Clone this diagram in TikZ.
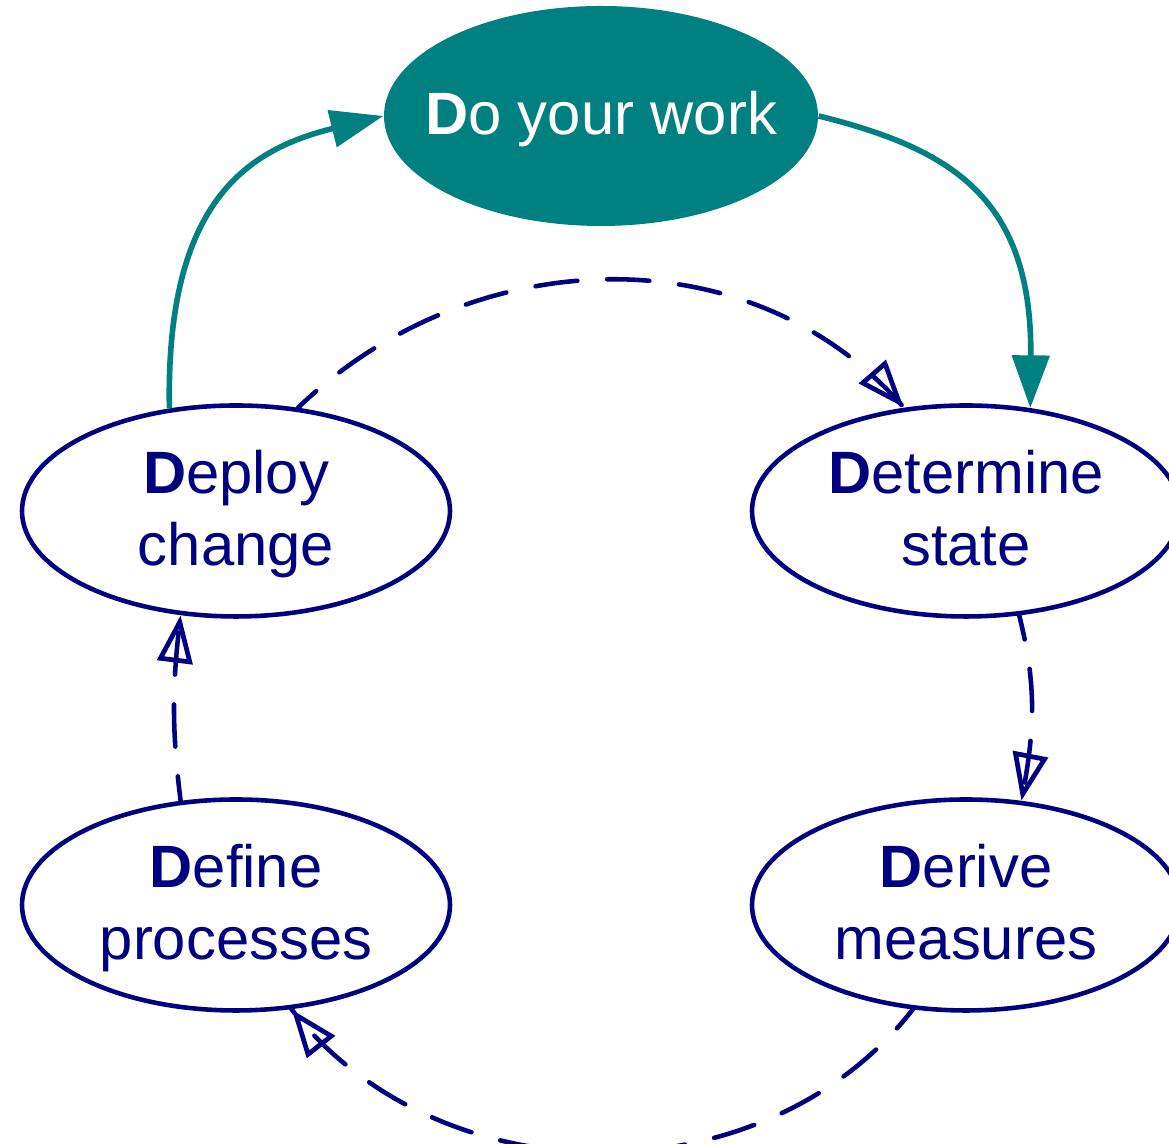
\documentclass[tikz,border=0pt]{standalone}
\usepackage{fontspec}
\setmainfont{Liberation Sans}
\usetikzlibrary{shapes.geometric, arrows.meta, decorations.markings}
\definecolor{navyblue}{HTML}{000080}
\definecolor{tealc}{HTML}{008080}
% struts that fix the height of the first and the depth of the last text line
\newcommand{\topstrut}{\rule{0pt}{0.865em}}
\newcommand{\botstrut}{\rule[-0.25em]{0pt}{0pt}}

\begin{document}
\begin{tikzpicture}[
  lbl/.style={font=\fontsize{17}{20.5}\selectfont, align=center},
  stage/.style={ellipse, draw=navyblue, line width=1.3pt, text=navyblue,
    minimum width=4.28cm, minimum height=2.11cm, inner sep=0pt, lbl},
  hub/.style={ellipse, fill=tealc, text=white,
    minimum width=4.34cm, minimum height=2.2cm, inner xsep=-0.3cm, inner ysep=0pt, lbl},
  mainflow/.style={draw=tealc, line width=1.6pt,
    -{Triangle[length=15pt, width=10.5pt]}},
  % dashed link whose open head sits over the end of the line
  loopflow/.style={draw=navyblue, line width=1.3pt, line cap=round,
    dash pattern=on 12pt off 8.5pt, dash phase=5pt,
    postaction={decorate},
    decoration={markings,
      mark=at position 0.999 with {\arrow{Triangle[open, length=13.5pt, width=10pt, line width=1.35pt]}}}}
]
\useasboundingbox (0,0) rectangle (11.69,11.44);

% central activity
\node[hub] (work) at (6.01,10.28) {\topstrut\botstrut\textbf{D}o your work};

% the four stages of the cycle
\node[stage] (deploy)    at (2.36,6.33) {\topstrut\textbf{D}eploy\\change\botstrut};
\node[stage] (determine) at (9.66,6.33) {\topstrut\textbf{D}etermine\\state\botstrut};
\node[stage] (define)    at (2.36,2.39) {\topstrut\textbf{D}efine\\processes\botstrut};
\node[stage] (derive)    at (9.66,2.39) {\topstrut\textbf{D}erive\\measures\botstrut};

% main loop through the work
\draw[mainflow] (deploy.123.6) .. controls +(-0.04,2.1) and +(-1.33,-0.33) .. (work.west);
\draw[mainflow] (work.east) .. controls +(1.33,-0.33) and +(0.02,2.1) .. (determine.58.6);

% improvement cycle
\draw[loopflow] (deploy.59.6) to[out=44, in=131] (determine.121);
\draw[loopflow] (determine.-63) to[out=-76, in=79] (derive.62);
\draw[loopflow] (derive.-117) to[out=-128, in=-52] (define.-62);
\draw[loopflow] (define.118) to[out=97, in=-97] (deploy.-118.7);
\end{tikzpicture}
\end{document}
